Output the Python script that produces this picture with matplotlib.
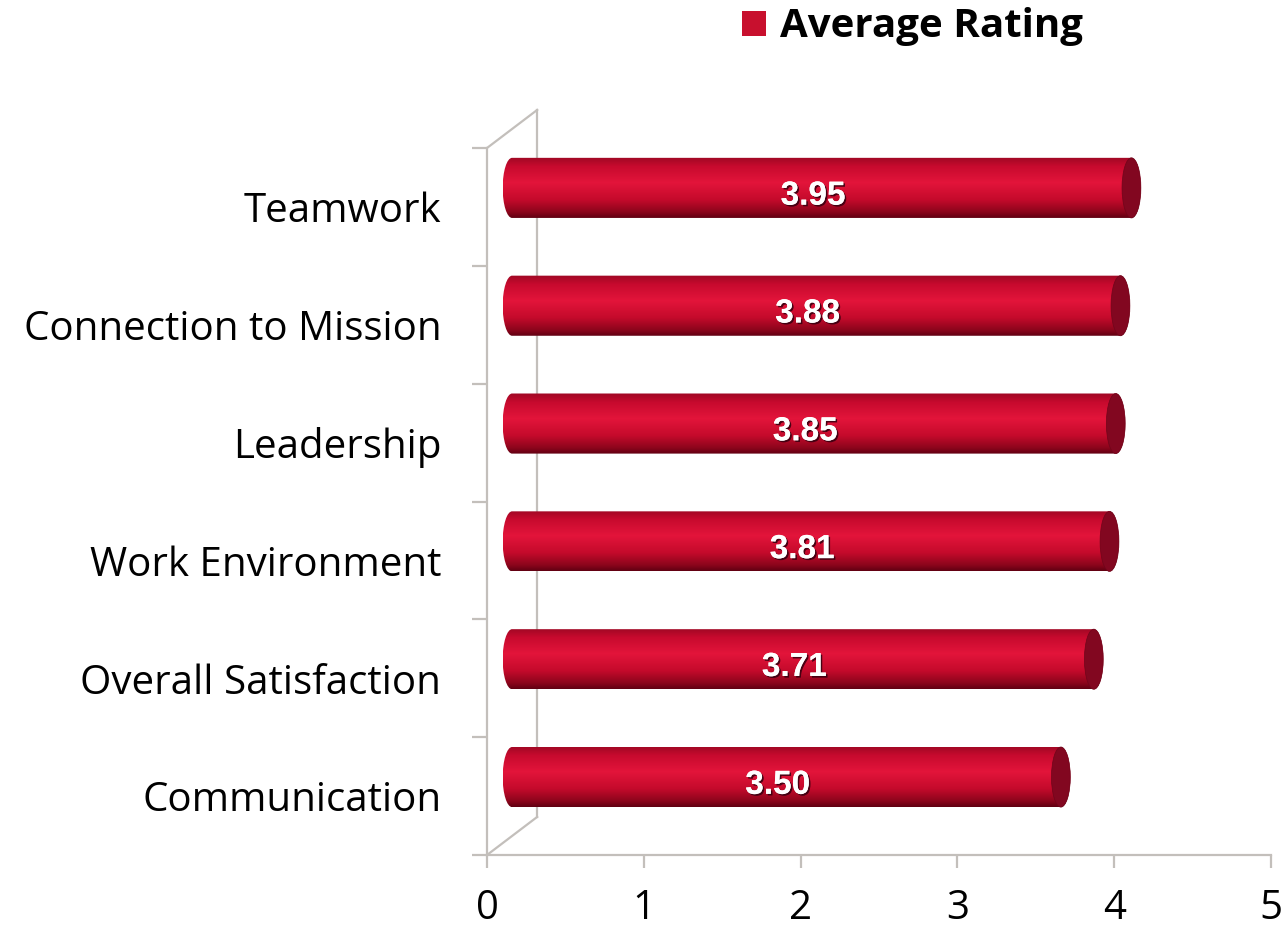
import numpy as np
import matplotlib
matplotlib.use("Agg")
import matplotlib.pyplot as plt
from matplotlib.path import Path
from matplotlib.patches import PathPatch, Ellipse, Patch
from matplotlib.colors import LinearSegmentedColormap
import matplotlib.patheffects as pe

categories = ["Communication", "Overall Satisfaction", "Work Environment",
              "Leadership", "Connection to Mission", "Teamwork"]
ratings = [3.50, 3.71, 3.81, 3.85, 3.88, 3.95]
x_ticks = [0, 1, 2, 3, 4, 5]
series_name = "Average Rating"

GRAY = "#c3bfbb"
RED = "#c8102e"

# fake 3d depth (data units)
DX = 0.32
DY = 0.323
HALF_H = 0.255
RX = 0.06


def main():
    fig = plt.figure(figsize=(12.84, 9.36), dpi=100)
    ax = fig.add_axes([487 / 1284, 81 / 936, 784 / 1284, 707 / 936])
    n = len(categories)
    ax.set_xlim(0, 5)
    ax.set_ylim(0, n)

    # walls
    wall = dict(color=GRAY, lw=1.6, clip_on=False, zorder=1)
    ax.plot([0, DX], [n, n + DY], **wall)
    ax.plot([DX, DX], [DY, n + DY], **wall)
    ax.plot([0, DX], [0, DY], **wall)

    for s in ["top", "right"]:
        ax.spines[s].set_visible(False)
    for s in ["left", "bottom"]:
        ax.spines[s].set_color(GRAY)
        ax.spines[s].set_linewidth(1.6)

    ax.set_xticks(x_ticks)
    ax.set_xticklabels([str(t) for t in x_ticks], fontsize=29,
                       family="Open Sans")
    ax.tick_params(axis="x", length=9, width=1.6, color=GRAY, pad=15)

    ax.set_yticks(np.arange(n + 1))
    ax.set_yticklabels([])
    ax.tick_params(axis="y", which="major", length=11, width=1.6, color=GRAY)
    ax.set_yticks(np.arange(n) + 0.5, minor=True)
    ax.set_yticklabels(categories, minor=True, fontsize=29, family="Open Sans")
    ax.tick_params(axis="y", which="minor", length=0, pad=33)

    cmap = LinearSegmentedColormap.from_list("cyl", [
        (0.00, (0.62, 0.03, 0.14)),
        (0.15, (0.78, 0.04, 0.18)),
        (0.42, (0.89, 0.08, 0.23)),
        (0.70, (0.77, 0.04, 0.17)),
        (0.90, (0.55, 0.02, 0.11)),
        (1.00, (0.38, 0.00, 0.07)),
    ])
    grad = cmap(np.linspace(0, 1, 256))[:, None, :3]

    k = 0.5523
    for i, v in enumerate(ratings):
        yc = i + 0.5 + DY / 2
        x0 = DX / 2
        x1 = v + DX / 2
        y0, y1 = yc - HALF_H, yc + HALF_H
        verts = [
            (x0, y1), (x1, y1),
            (x1 + RX * k, y1), (x1 + RX, yc + HALF_H * k), (x1 + RX, yc),
            (x1 + RX, yc - HALF_H * k), (x1 + RX * k, y0), (x1, y0),
            (x0, y0),
            (x0 - RX * k, y0), (x0 - RX, yc - HALF_H * k), (x0 - RX, yc),
            (x0 - RX, yc + HALF_H * k), (x0 - RX * k, y1), (x0, y1),
            (x0, y1),
        ]
        codes = [Path.MOVETO, Path.LINETO,
                 Path.CURVE4, Path.CURVE4, Path.CURVE4,
                 Path.CURVE4, Path.CURVE4, Path.CURVE4,
                 Path.LINETO,
                 Path.CURVE4, Path.CURVE4, Path.CURVE4,
                 Path.CURVE4, Path.CURVE4, Path.CURVE4,
                 Path.CLOSEPOLY]
        body = PathPatch(Path(verts, codes), facecolor="none",
                         edgecolor="none", zorder=2)
        ax.add_patch(body)
        im = ax.imshow(grad, extent=(x0 - RX, x1 + RX, y0, y1),
                       aspect="auto", origin="upper", zorder=2,
                       interpolation="bilinear")
        im.set_clip_path(body)
        cap = Ellipse((x1, yc), 2 * RX, 2 * HALF_H, facecolor="#820720",
                      edgecolor="#70051a", lw=0.5, zorder=3)
        ax.add_patch(cap)

        ax.text(v / 2 + 0.105, yc - 0.07, f"{v:.2f}", color="white",
                fontsize=24, fontweight="bold", family="Liberation Sans",
                ha="center", va="center", zorder=4,
                path_effects=[pe.withSimplePatchShadow(
                    offset=(1.2, -1.2), shadow_rgbFace="#3a0010", alpha=0.9),
                    pe.Normal()])

    fig.legend(handles=[Patch(facecolor=RED)], labels=[series_name],
               loc="center left", bbox_to_anchor=(714 / 1284, 1 - 27 / 936),
               frameon=False, handlelength=0.6, handleheight=0.6,
               handletextpad=0.35, borderpad=0.2,
               prop=dict(family="Open Sans", weight="bold", size=29))

    fig.savefig("out.png", dpi=100)


if __name__ == "__main__":
    main()
